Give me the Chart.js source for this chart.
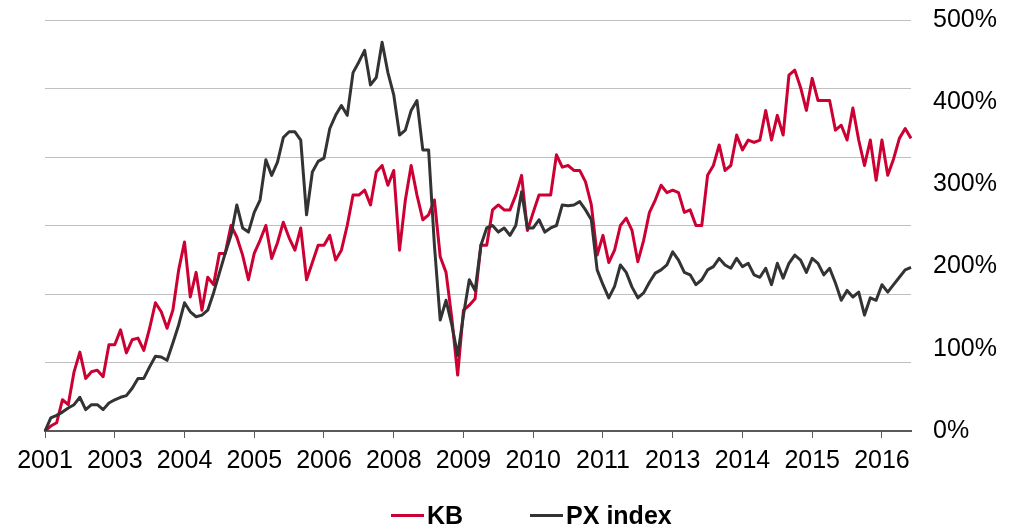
<!DOCTYPE html>
<html>
<head>
<meta charset="utf-8">
<script src="https://cdn.jsdelivr.net/npm/chart.js@4.4.1/dist/chart.umd.min.js"></script>
<style>
	body { margin: 0; background: #fff; }
	#wrap { position: relative; width: 1020px; height: 525px; }
	#legend {
		position: absolute; left: 391px; top: 501px;
		display: flex; align-items: center; white-space: nowrap;
		font: bold 25px "Liberation Sans", Arial, sans-serif; color: #000;
	}
	#legend .swatch { display: inline-block; width: 33px; height: 3px; margin-right: 3px; }
	#legend .item { display: flex; align-items: center; margin-right: 67px; }
</style>
</head>
<body>
<div id="wrap">
	<canvas id="kbChart" width="1020" height="525"></canvas>
	<div id="legend"></div>
</div>
<script>
// Tick labels under the x axis (one every 12 points)
const yearLabels = [ '2001', '2003', '2004', '2005', '2006', '2008', '2009', '2010', '2011', '2013', '2014', '2015', '2016' ];
const tickEvery = 12;

// Performance since start, in %
const kbValues = [
	0, 6, 10, 38, 32, 72, 96, 64, 72, 74, 66, 105, 105, 123, 95, 111, 113, 98, 125, 156,
	145, 125, 147, 196, 230, 163, 193, 147, 187, 178, 216, 216, 250, 236, 214, 184, 216, 232, 250, 210,
	229, 254, 235, 220, 247, 184, 205, 226, 226, 238, 208, 220, 250, 287, 287, 293, 275, 315, 323, 299,
	317, 220, 281, 323, 287, 257, 263, 281, 212, 193, 137, 68, 147, 153, 161, 226, 226, 269, 275, 269,
	269, 287, 311, 244, 266, 287, 287, 287, 336, 321, 323, 317, 317, 303, 275, 214, 238, 205, 220, 250,
	259, 244, 206, 232, 266, 281, 299, 290, 293, 290, 266, 269, 250, 250, 311, 323, 348, 317, 323, 360,
	342, 354, 351, 354, 390, 354, 384, 360, 433, 439, 418, 390, 429, 402, 402, 402, 366, 372, 354, 393,
	354, 323, 354, 305, 354, 311, 331, 356, 368, 356
];
const pxValues = [
	0, 16, 19, 23, 28, 32, 41, 26, 32, 32, 26, 34, 38, 41, 43, 52, 64, 64, 78, 91,
	90, 86, 107, 129, 156, 145, 139, 141, 147, 168, 192, 216, 238, 275, 247, 242, 266, 281, 330, 311,
	327, 357, 364, 364, 354, 263, 315, 328, 332, 368, 384, 396, 384, 436, 449, 463, 421, 430, 473, 436,
	409, 360, 366, 390, 402, 342, 342, 226, 135, 159, 129, 92, 141, 184, 171, 226, 247, 250, 242, 247,
	238, 250, 291, 247, 247, 257, 242, 247, 250, 275, 274, 275, 279, 269, 257, 196, 178, 162, 176, 202,
	193, 175, 162, 168, 181, 192, 196, 202, 218, 208, 193, 190, 178, 184, 196, 200, 210, 202, 198, 210,
	200, 204, 190, 187, 198, 178, 204, 186, 204, 214, 208, 193, 210, 204, 190, 198, 180, 159, 171, 163,
	169, 141, 162, 159, 178, 169, 178, 187, 196, 199
];

const seriesNames = [ 'KB', 'PX index' ];
const seriesColors = [ '#cc0033', '#333333' ];

const labels = kbValues.map( ( v, i ) => i % tickEvery === 0 ? yearLabels[ i / tickEvery ] : '' );
const font = { family: '"Liberation Sans", Arial, sans-serif', size: 25 };

// no extra room for half labels at the ends of the axes
function noEndPadding( scale ) {
	scale.paddingTop = 0;
	scale.paddingBottom = 0;
	scale.paddingLeft = 0;
	scale.paddingRight = 0;
}

const ctx = document.getElementById( 'kbChart' ).getContext( '2d' );
new Chart( ctx, {
	type: 'line',
	data: {
		labels: labels,
		datasets: [
			{
				label: seriesNames[ 0 ],
				borderColor: seriesColors[ 0 ],
				data: kbValues,
				yAxisID: 'y',
				order: 1
			},
			{
				label: seriesNames[ 1 ],
				borderColor: seriesColors[ 1 ],
				data: pxValues,
				yAxisID: 'y',
				order: 0
			}
		]
	},
	options: {
		responsive: false,
		animation: false,
		layout: { padding: { top: 20, left: 45, right: 0, bottom: 0 } },
		plugins: {
			legend: { display: false },
			tooltip: { enabled: false }
		},
		elements: {
			point: { radius: 0 },
			line: { tension: 0, borderWidth: 3, borderJoinStyle: 'round' }
		},
		scales: {
			x: {
				ticks: { autoSkip: false, maxRotation: 0, padding: 8, color: '#000', font: font },
				grid: { drawOnChartArea: false, tickLength: 7, color: '#595959' },
				border: { color: '#595959', width: 2 },
				afterBuildTicks: function ( scale ) {
					scale.ticks = scale.ticks.filter( t => t.value % tickEvery === 0 );
				},
				afterFit: function ( scale ) {
					noEndPadding( scale );
					scale.height = 94;
				}
			},
			y: {
				position: 'right',
				min: 0,
				max: 500,
				ticks: { stepSize: 100, padding: 14, color: '#000', font: font, callback: v => v + '%' },
				grid: { display: false },
				border: { display: false },
				afterFit: function ( scale ) {
					noEndPadding( scale );
					scale.width = 109;
				}
			},
			// only there for the 6 horizontal gridlines
			g: {
				position: 'left',
				min: 0,
				max: 6,
				ticks: { display: false, stepSize: 1 },
				grid: { color: '#c0c0c0', drawTicks: false },
				border: { display: false },
				afterFit: function ( scale ) {
					noEndPadding( scale );
					scale.width = 0;
				}
			}
		}
	}
} );

// Legend
const legend = document.getElementById( 'legend' );
seriesNames.forEach( function ( name, i ) {
	const item = document.createElement( 'span' );
	item.className = 'item';
	const swatch = document.createElement( 'span' );
	swatch.className = 'swatch';
	swatch.style.background = seriesColors[ i ];
	item.appendChild( swatch );
	item.appendChild( document.createTextNode( name ) );
	legend.appendChild( item );
} );
</script>
</body>
</html>
